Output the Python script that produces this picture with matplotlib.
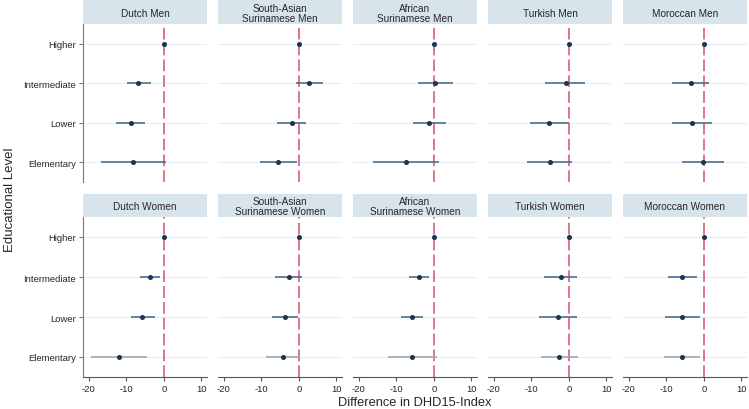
import matplotlib
matplotlib.use("Agg")
import matplotlib.pyplot as plt
import numpy as np

plt.rcParams['font.family'] = ['Liberation Sans', 'DejaVu Sans']

levels = ["Higher", "Intermediate", "Lower", "Elementary"]
level_pos = [4, 3, 2, 1]

titles_top = ["Dutch Men", "South-Asian\nSurinamese Men", "African\nSurinamese Men", "Turkish Men", "Moroccan Men"]
titles_bot = ["Dutch Women", "South-Asian\nSurinamese Women", "African\nSurinamese Women", "Turkish Women", "Moroccan Women"]

# estimates per level (Higher, Intermediate, Lower, Elementary)
est_men = [
    [0, -6.8, -8.7, -8.1],
    [0, 2.7, -1.9, -5.5],
    [0, 0.4, -1.2, -7.3],
    [0, -0.8, -5.2, -5.1],
    [0, -3.5, -3.1, -0.3],
]
lo_men = [
    [0, -9.9, -12.6, -16.8],
    [0, -0.7, -5.8, -10.4],
    [0, -4.2, -5.6, -16.3],
    [0, -6.2, -10.3, -11.1],
    [0, -8.4, -8.4, -5.9],
]
hi_men = [
    [0, -3.5, -5.0, 0.7],
    [0, 6.5, 1.8, -0.6],
    [0, 5.1, 3.3, 1.4],
    [0, 4.4, 0.0, 0.9],
    [0, 1.3, 2.3, 5.5],
]
est_women = [
    [0, -3.6, -5.7, -11.9],
    [0, -2.7, -3.8, -4.3],
    [0, -3.9, -5.8, -5.7],
    [0, -2.1, -2.9, -2.5],
    [0, -5.7, -5.8, -5.8],
]
lo_women = [
    [0, -6.3, -8.8, -19.5],
    [0, -6.3, -7.0, -8.8],
    [0, -6.5, -8.8, -12.3],
    [0, -6.5, -8.0, -7.3],
    [0, -9.6, -10.4, -10.6],
]
hi_women = [
    [0, -1.1, -2.3, -4.4],
    [0, 0.9, -0.2, 0.0],
    [0, -1.2, -2.9, 0.9],
    [0, 2.2, 2.2, 2.5],
    [0, -1.7, -1.1, -1.1],
]
xticks = [-20, -10, 0, 10]

W, H = 749, 410
fig = plt.figure(figsize=(W / 100, H / 100), dpi=100)

col_left = [83, 218, 353, 488, 623]
pw = 124
rows = [
    dict(htop=1, hbot=25, abot=183, titles=titles_top, est=est_men, lo=lo_men, hi=hi_men, bottom=False),
    dict(htop=195, hbot=218, abot=378, titles=titles_bot, est=est_women, lo=lo_women, hi=hi_women, bottom=True),
]

def fx(px):
    return px / W

def fy(py):
    return 1 - py / H

header_color = "#d8e4eb"
ci_color = "#4d6f8c"
pt_color = "#1c3550"
ref_color = "#d65c82"
grid_color = "#e6eef3"
txt = '#262626'

for r in rows:
    for c in range(5):
        x0 = col_left[c]
        # header
        hax = fig.add_axes([fx(x0), fy(r['hbot']), pw / W, (r['hbot'] - r['htop']) / H])
        hax.set_facecolor(header_color)
        for s in hax.spines.values():
            s.set_visible(False)
        hax.set_xticks([]); hax.set_yticks([])
        hax.text(0.5, 0.47, r['titles'][c], ha='center', va='center', fontsize=7.2,
                 color=txt, transform=hax.transAxes, linespacing=1.05)
        # main axes
        ax = fig.add_axes([fx(x0), fy(r['abot']), pw / W, (r['abot'] - r['hbot']) / H])
        ax.set_xlim(-21.5, 11.5)
        ax.set_ylim(0.5, 4.5)
        for yp in level_pos:
            ax.axhline(yp, color=grid_color, lw=0.8, zorder=0)
        ax.axvline(0, color=ref_color, lw=1.2, ls=(0, (7, 2.5)), zorder=1)
        est = r['est'][c]; lo = r['lo'][c]; hi = r['hi'][c]
        for i, yp in enumerate(level_pos):
            col = ci_color
            if r['bottom'] and levels[i] == "Elementary":
                col = "#97a9b7"
            if lo[i] != hi[i]:
                ax.plot([lo[i], hi[i]], [yp, yp], color=col, lw=1.2, zorder=2, solid_capstyle='butt')
            ax.plot(est[i], yp, 'o', color=pt_color, ms=2.6, zorder=3)
        for s in ['top', 'right']:
            ax.spines[s].set_visible(False)
        ax.spines['left'].set_visible(c == 0)
        ax.spines['left'].set_color('#777777')
        ax.spines['bottom'].set_visible(r['bottom'])
        ax.spines['bottom'].set_color('#555555')
        if c == 0:
            ax.set_yticks(level_pos)
            ax.set_yticklabels(levels, fontsize=6.8, color=txt)
            ax.tick_params(axis='y', length=3, color='#777777', pad=2)
        else:
            ax.set_yticks([])
        if r['bottom']:
            ax.set_xticks(xticks)
            ax.set_xticklabels([str(t) for t in xticks], fontsize=6.8, color=txt)
            ax.tick_params(axis='x', length=3, color='#555555', pad=2)
        else:
            ax.set_xticks([])

fig.text(fx(415), fy(403), "Difference in DHD15-Index", ha='center', va='center', fontsize=9.3, color=txt)
fig.text(fx(10), fy(200), "Educational Level", ha='center', va='center', rotation=90, fontsize=9.5, color=txt)

fig.savefig("out.png", dpi=100)
